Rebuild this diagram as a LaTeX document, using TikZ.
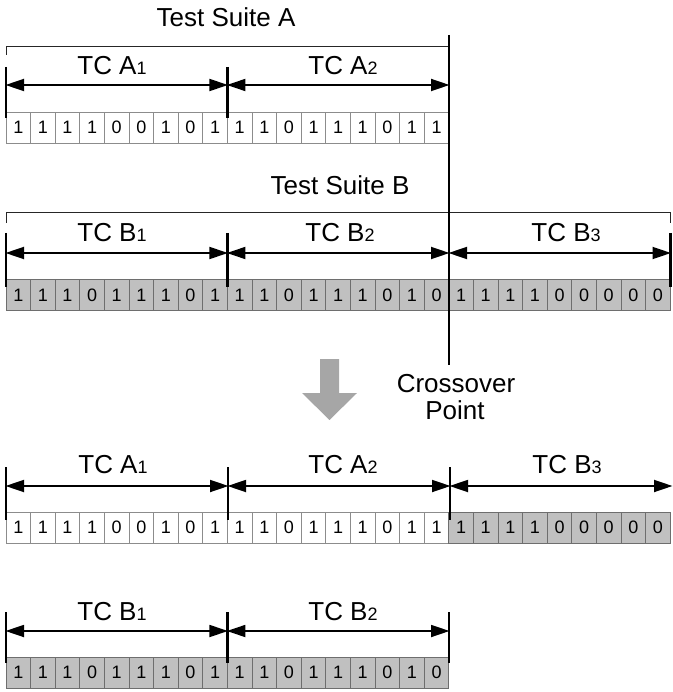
\documentclass[tikz,border=0pt]{standalone}
\usepackage{fontspec}
\setmainfont{Liberation Sans}
\usetikzlibrary{arrows.meta}
\definecolor{cellgray}{HTML}{C0C0C0}
\definecolor{cellline}{HTML}{8C8C8C}
\definecolor{celllineB}{HTML}{6E6E6E}
\definecolor{bigarrow}{HTML}{A6A6A6}
\newcommand{\bigf}{\fontsize{26}{28}\selectfont}
\newcommand{\smallf}{\fontsize{18}{20}\selectfont}
\newcommand{\tcl}[2]{\bigf TC #1{\smallf #2}}
\begin{document}
\begin{tikzpicture}[x=1pt,y=-1pt,
  bitA/.style={draw=cellline, fill=white, minimum width=24.6pt, minimum height=31pt,
    inner sep=0pt, outer sep=0pt, font=\smallf, line width=0.8pt},
  bitB/.style={bitA, fill=cellgray, draw=celllineB},
  tickline/.style={line width=2.2pt},
  span/.style={{Triangle[length=18.5pt,width=12pt]}-{Triangle[length=18.5pt,width=12pt]}, line width=1.8pt, shorten <=-0.5pt, shorten >=-0.5pt},
  brace/.style={line width=1pt, draw=black!85},
  lab/.style={anchor=base, inner sep=0pt, font=\bigf}]
\useasboundingbox (0,0) rectangle (672,692);

% ---------- Row 1: Test Suite A ----------
\node[lab] (tsa) at (226,27) {Test Suite A};
\coordinate (bA0) at (6,55);
\coordinate (bA1) at (449,47);
\draw[brace] (bA0) |- (bA1);
\foreach \b [count=\i from 0] in {1,1,1,1,0,0,1,0,1,1,1,0,1,1,1,0,1,1}
  \node[bitA] (a\i) at (18.3+\i*24.6,127.5) {\b};
\coordinate (r1x0) at (6,85);
\coordinate (r1x1) at (227.4,85);
\coordinate (r1x2) at (449,85);
\foreach \k in {0,1}
  \draw[tickline] ([yshift=18pt]r1x\k) -- ([yshift=-33pt]r1x\k);
\draw[span] (r1x0) -- (r1x1);
\draw[span] (r1x1) -- (r1x2);
\node[lab] (tca1) at (112,75) {\tcl{A}{1}};
\node[lab] (tca2) at (343,75) {\tcl{A}{2}};

% ---------- Row 2: Test Suite B ----------
\node[lab] (tsb) at (340,195) {Test Suite B};
\coordinate (bB0) at (6,223);
\coordinate (bB1) at (670.5,223);
\draw[brace] (bB0) -- ++(0,-10) -| (bB1);
\foreach \b [count=\i from 0] in {1,1,1,0,1,1,1,0,1,1,1,0,1,1,1,0,1,0,1,1,1,1,0,0,0,0,0}
  \node[bitB] (b\i) at (18.3+\i*24.6,295) {\b};
\coordinate (r2x0) at (6,253);
\coordinate (r2x1) at (227.4,253);
\coordinate (r2x2) at (449,253);
\coordinate (r2x3) at (670.5,253);
\foreach \k in {0,1,3}
  \draw[tickline] ([yshift=20pt]r2x\k) -- ([yshift=-34pt]r2x\k);
\draw[span] (r2x0) -- (r2x1);
\draw[span] (r2x1) -- (r2x2);
\draw[span] (r2x2) -- (r2x3);
\node[lab] (tcb1) at (112,242) {\tcl{B}{1}};
\node[lab] (tcb2) at (340,242) {\tcl{B}{2}};
\node[lab] (tcb3) at (566,242) {\tcl{B}{3}};

% ---------- Crossover line ----------
\coordinate (xtop) at (449,35);
\coordinate (xbot) at (449,365);
\draw[line width=2.6pt] (xtop) -- (xbot);
\node[lab] (cross) at (456,392) {Crossover};
\node[lab] (point) at (455,419) {Point};

% ---------- Big gray arrow ----------
\fill[bigarrow] (320,359) -- (339,359) -- (339,393) -- (357,393) -- (329.5,420)
  -- (302,393) -- (320,393) -- cycle;

% ---------- Row 3: offspring 1 ----------
\foreach \b [count=\i from 0] in {1,1,1,1,0,0,1,0,1,1,1,0,1,1,1,0,1,1}
  \node[bitA] (c\i) at (18.3+\i*24.6,527.5) {\b};
\foreach \b [count=\i from 18] in {1,1,1,1,0,0,0,0,0}
  \node[bitB] (c\i) at (18.3+\i*24.6,527.5) {\b};
\coordinate (r3x0) at (6,486);
\coordinate (r3x1) at (228,486);
\coordinate (r3x2) at (450,486);
\coordinate (r3x3) at (672,486);
\foreach \k in {0,1,2}
  \draw[tickline] ([yshift=19pt]r3x\k) -- ([yshift=-34pt]r3x\k);
\draw[span] (r3x0) -- (r3x1);
\draw[span] (r3x1) -- (r3x2);
\draw[span] (r3x2) -- (r3x3);
\node[lab] (tca1b) at (113,473) {\tcl{A}{1}};
\node[lab] (tca2b) at (343,473) {\tcl{A}{2}};
\node[lab] (tcb3b) at (567,473) {\tcl{B}{3}};

% ---------- Row 4: offspring 2 ----------
\foreach \b [count=\i from 0] in {1,1,1,0,1,1,1,0,1,1,1,0,1,1,1,0,1,0}
  \node[bitB] (d\i) at (18.3+\i*24.6,672.5) {\b};
\coordinate (r4x0) at (6,631);
\coordinate (r4x1) at (227.4,631);
\coordinate (r4x2) at (449,631);
\foreach \k in {0,1,2}
  \draw[tickline] ([yshift=19pt]r4x\k) -- ([yshift=-32pt]r4x\k);
\draw[span] (r4x0) -- (r4x1);
\draw[span] (r4x1) -- (r4x2);
\node[lab] (tcb1b) at (112,620) {\tcl{B}{1}};
\node[lab] (tcb2b) at (343,620) {\tcl{B}{2}};
\end{tikzpicture}
\end{document}
